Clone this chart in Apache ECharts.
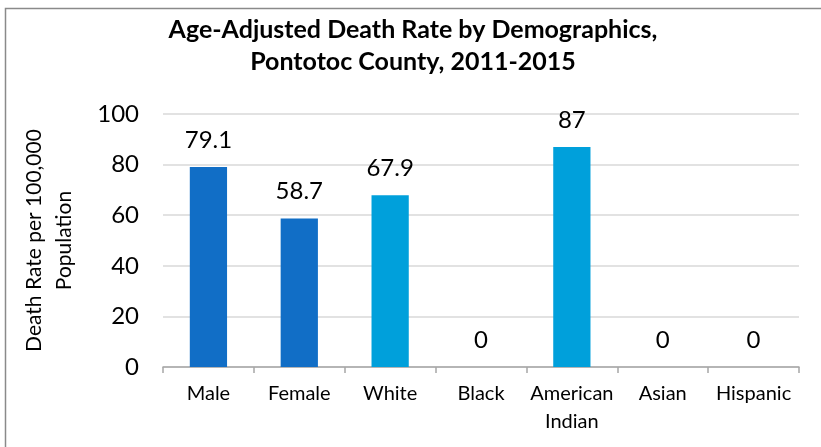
<!DOCTYPE html>
<html>
<head>
<meta charset="utf-8">
<script src="https://cdn.jsdelivr.net/npm/echarts@6/dist/echarts.min.js"></script>
<style>html,body{margin:0;padding:0;background:#fff}#c{width:821px;height:447px}</style>
</head>
<body>
<div id="c"></div>
<script>
var categories = ['Male', 'Female', 'White', 'Black', 'American\nIndian', 'Asian', 'Hispanic'];
var values = [79.1, 58.7, 67.9, 0, 87, 0, 0];
var yTicks = [0, 20, 40, 60, 80, 100];
var barColors = ['#116EC6', '#116EC6', '#00A0DB', '#00A0DB', '#00A0DB', '#00A0DB', '#00A0DB'];

var FONT = 'Lato, "Open Sans", sans-serif';
var chart = echarts.init(document.getElementById('c'));
chart.setOption({
  animation: false,
  graphic: [{
    type: 'rect', shape: {x: 5.5, y: 8.5, width: 840, height: 460},
    style: {fill: 'none', stroke: '#8a8a8a', lineWidth: 1.5}, silent: true
  }],
  title: {
    text: 'Age-Adjusted Death Rate by Demographics,\nPontotoc County, 2011-2015',
    left: 408, top: 9, textAlign: 'center',
    textStyle: {fontFamily: FONT, fontWeight: 'bold', fontSize: 25, lineHeight: 32, color: '#000'}
  },
  grid: {left: 163, right: 22, top: 114, bottom: 80},
  xAxis: {
    type: 'category', data: categories,
    axisLine: {lineStyle: {color: '#a6a6a6', width: 1.5}},
    axisTick: {show: true, length: 6, lineStyle: {color: '#a6a6a6', width: 1.5}},
    axisLabel: {fontFamily: FONT, fontSize: 20, color: '#000', margin: 13, lineHeight: 28, interval: 0}
  },
  yAxis: {
    type: 'value', min: yTicks[0], max: yTicks[yTicks.length - 1], interval: 20,
    name: 'Death Rate per 100,000\nPopulation', nameLocation: 'middle', nameGap: 84,
    nameTextStyle: {fontFamily: FONT, fontSize: 21, color: '#000', lineHeight: 30},
    axisLine: {show: false}, axisTick: {show: false},
    axisLabel: {fontFamily: FONT, fontSize: 24, color: '#000', margin: 24},
    splitLine: {lineStyle: {color: '#d9d9d9', width: 1.5}}
  },
  series: [{
    type: 'bar', barWidth: '41%',
    data: values.map(function (v, i) { return {value: v, itemStyle: {color: barColors[i]}}; }),
    label: {show: true, position: 'top', distance: 15, fontFamily: FONT, fontSize: 24, color: '#000'}
  }]
});
</script>
</body>
</html>
